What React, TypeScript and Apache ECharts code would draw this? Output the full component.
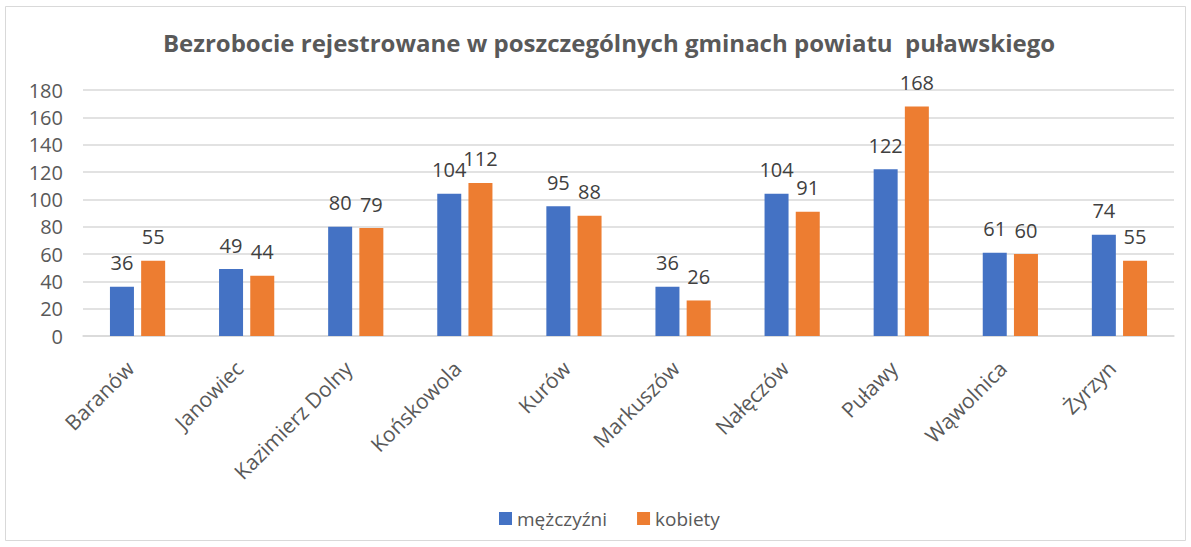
import React, { useEffect, useRef } from "react";
import * as echarts from "echarts";

const categories = ["Baranów", "Janowiec", "Kazimierz Dolny", "Końskowola", "Kurów", "Markuszów", "Nałęczów", "Puławy", "Wąwolnica", "Żyrzyn"];
const men = [36, 49, 80, 104, 95, 36, 104, 122, 61, 74];
const women = [55, 44, 79, 112, 88, 26, 91, 168, 60, 55];
const yTicks = { min: 0, max: 180, interval: 20 };

const FONT = "'Open Sans', sans-serif";

export default function App() {
  const ref = useRef<HTMLDivElement>(null);
  useEffect(() => {
    if (!ref.current) return;
    const chart = echarts.init(ref.current, null, { renderer: "svg" });
    const label = {
      show: true,
      position: "top" as const,
      distance: 14,
      color: "#404040",
      fontSize: 20,
      fontFamily: FONT,
    };
    chart.setOption({
      animation: false,
      backgroundColor: "#ffffff",
      textStyle: { fontFamily: FONT },
      graphic: [
        {
          type: "rect",
          shape: { x: 5.5, y: 6.5, width: 1180, height: 534 },
          style: { fill: "none", stroke: "#d9d9d9", lineWidth: 1 },
          silent: true,
        },
      ],
      title: {
        text: "Bezrobocie rejestrowane w poszczególnych gminach powiatu  puławskiego",
        left: 604,
        textAlign: "center",
        top: 25,
        textStyle: { fontFamily: FONT, fontSize: 24, fontWeight: "bold", color: "#595959" },
      },
      legend: {
        bottom: 14,
        left: 494,
        itemWidth: 13,
        itemHeight: 13,
        itemGap: 30,
        icon: "rect",
        textStyle: { fontFamily: FONT, fontSize: 19, color: "#595959" },
        data: ["mężczyźni", "kobiety"],
      },
      grid: { left: 83, right: 17, top: 90, bottom: 211, containLabel: false },
      xAxis: {
        type: "category",
        data: categories,
        axisLine: { lineStyle: { color: "#d9d9d9", width: 1.5 } },
        axisTick: { show: false },
        axisLabel: {
          rotate: 45,
          interval: 0,
          margin: 36,
          verticalAlign: "bottom",
          color: "#595959",
          fontSize: 21,
          fontFamily: FONT,
        },
      },
      yAxis: {
        type: "value",
        min: yTicks.min,
        max: yTicks.max,
        interval: yTicks.interval,
        axisLine: { show: false },
        axisTick: { show: false },
        splitLine: { lineStyle: { color: "#d9d9d9", width: 1.5 } },
        axisLabel: { color: "#595959", fontSize: 20, fontFamily: FONT, margin: 20 },
      },
      series: [
        {
          name: "mężczyźni",
          type: "bar",
          data: men,
          barWidth: 24,
          barGap: "30%",
          itemStyle: { color: "#4472c4" },
          label,
        },
        {
          name: "kobiety",
          type: "bar",
          data: women,
          barWidth: 24,
          barGap: "30%",
          itemStyle: { color: "#ed7d31" },
          label,
        },
      ],
    });
    return () => chart.dispose();
  }, []);
  return (
    <div
      ref={ref}
      style={{ position: "absolute", left: 0, top: 0, width: 1191, height: 547 }}
    />
  );
}
